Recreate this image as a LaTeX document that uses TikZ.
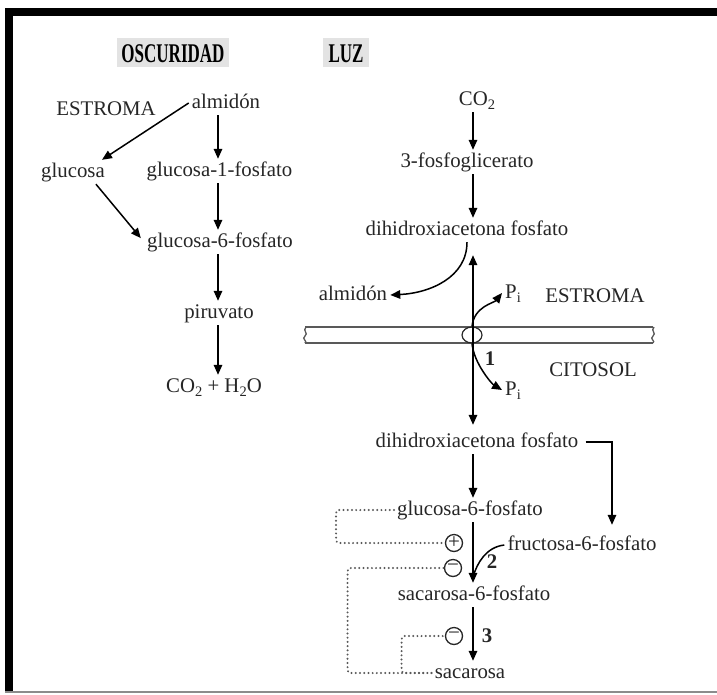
\documentclass[tikz,border=0pt]{standalone}
\usepackage{fontspec}
\setmainfont{Liberation Serif}
\usepackage{graphicx}
\usepackage{tikz}
\usetikzlibrary{arrows.meta,shapes.geometric}

\newcommand{\lowtxt}[1]{\raisebox{-4pt}{\fontsize{14.5}{16}\selectfont #1}}
\newcommand{\titletxt}[1]{\scalebox{0.63}[1]{\bfseries #1}}

\begin{document}
\begin{tikzpicture}[
    x=1pt, y=-1pt,
    txt/.style={
        anchor=base,
        inner xsep=3pt,
        inner ysep=2.5pt,
        text height=14.5pt,
        text depth=4.5pt,
        text=black!85,
        font=\fontsize{20.8}{24}\selectfont
    },
    num/.style={
        txt,
        font=\fontsize{20.8}{24}\selectfont\bfseries
    },
    title/.style={
        anchor=base,
        fill=black!11,
        inner xsep=4.5pt,
        inner ysep=4pt,
        text height=20pt,
        text depth=1pt,
        font=\fontsize{27}{30}\selectfont
    },
    sign/.style={
        circle,
        draw=black!85,
        line width=1.3pt,
        minimum size=17pt,
        inner sep=0pt,
        text=black!85,
        font=\fontsize{21}{21}\selectfont
    },
    arrow/.style={
        -{Triangle[length=10pt,width=8.5pt]},
        line width=1.5pt
    },
    link/.style={
        line width=1.5pt
    },
    dots/.style={
        draw=black!65,
        line width=2.2pt,
        line cap=round,
        dash pattern=on 0.01pt off 4.2pt,
        rounded corners=3pt
    },
    membrane/.style={
        draw=black!65,
        line width=1.3pt
    }
]

\fill[white] (0,0) rectangle (717,694);
\useasboundingbox (0,0) rectangle (717,694);

% ---------------- FRAME ----------------

\fill[black] (5,8) rectangle (13,692);
\fill[black] (5,8) rectangle (717,16);
\draw[black!45, line width=1.5pt] (5,692) -- (717,692);

% ---------------- TITLES ----------------

\node[title] (dark) at (173,62)
    {\titletxt{OSCURIDAD}};

\node[title, inner xsep=6pt] (light) at (346,62)
    {\titletxt{LUZ}};

% ---------------- LEFT COLUMN ----------------

\coordinate (axL) at (218,0);

\node[txt] (stromaL) at (106,115) {ESTROMA};

\node[txt] (almL) at (226,108) {almidón};

\node[txt] (gluc) at (73,177) {glucosa};

\node[txt] (g1p) at (219.5,176) {glucosa-1-fosfato};

\node[txt] (g6pL) at (220,247) {glucosa-6-fosfato};

\node[txt] (pyr) at (219,318) {piruvato};

\node[txt] (co2h2o) at (214,392)
    {CO\lowtxt{2} + H\lowtxt{2}O};

\draw[arrow] (axL |- almL.south) -- (axL |- g1p.north);
\draw[arrow] (axL |- g1p.south) -- (axL |- g6pL.north);
\draw[arrow] (axL |- g6pL.south) -- (axL |- pyr.north);
\draw[arrow] (axL |- pyr.south) -- (axL |- co2h2o.north);

\draw[arrow] (almL.west) -- ([xshift=-6pt]gluc.north east);
\draw[arrow, shorten >=5pt]
    ([xshift=-12pt]gluc.south east) -- (g6pL.west);

% ---------------- RIGHT COLUMN, STROMA ----------------

\coordinate (axR) at (473,0);

\node[txt] (co2) at (477,105) {CO\lowtxt{2}};

\node[txt] (pga) at (467,167) {3-fosfoglicerato};

\node[txt] (dhapU) at (467,235) {dihidroxiacetona fosfato};

\node[txt] (almR) at (353,300) {almidón};

\node[txt] (stromaR) at (595,302) {ESTROMA};

\node[txt] (piU) at (513,298) {P\lowtxt{i}};

\draw[arrow] (axR |- co2.south) -- (axR |- pga.north);
\draw[arrow] (axR |- pga.south) -- (axR |- dhapU.north);

\draw[arrow] (dhapU.south)
    .. controls +(0,35) and +(40,-2) .. (almR.east);

% ---------------- MEMBRANE ----------------

\draw[membrane] (305,327) -- (653,327);
\draw[membrane] (305,343) -- (653,343);
\draw[membrane] (306,327)
    .. controls (302,331) and (309,333) .. (305,336)
    .. controls (301,339) and (308,341) .. (305,343);
\draw[membrane] (654,327)
    .. controls (650,331) and (657,333) .. (653,336)
    .. controls (649,339) and (656,341) .. (653,343);

\node[ellipse, draw=black!85, line width=1.2pt,
      minimum width=20pt, minimum height=16pt, inner sep=0pt]
    (pore) at (472,335) {};

% ---------------- RIGHT COLUMN, CYTOSOL ----------------

\node[txt] (cytosol) at (593,376) {CITOSOL};

\node[num] (t1) at (490,365) {1};

\node[txt] (piL) at (513,395) {P\lowtxt{i}};

\node[txt] (dhapL) at (477,447) {dihidroxiacetona fosfato};

\node[txt] (g6pR) at (470,515) {glucosa-6-fosfato};

\node[txt] (fru) at (582,550) {fructosa-6-fosfato};

\node[sign] (plus2) at (454,543) {+};

\node[sign] (minus2) at (453,568) {−};

\node[num] (t2) at (492,568) {2};

\node[txt] (s6p) at (474,600) {sacarosa-6-fosfato};

\node[sign] (minus3) at (454,636) {−};

\node[num] (t3) at (487,642) {3};

\node[txt] (sac) at (470,678) {sacarosa};

\coordinate (join2) at (473,577);

\draw[arrow, {Triangle[length=10pt,width=8.5pt]}-{Triangle[length=10pt,width=8.5pt]},
      shorten <=13pt, shorten >=5pt]
    (axR |- dhapU.south) -- (axR |- dhapL.north);

\draw[arrow] (pore.north)
    .. controls +(2,-20) and +(-8,10) .. (piU.west);

\draw[arrow] (pore.south)
    .. controls +(2,20) and +(-10,-6) .. (piL.west);

\draw[arrow, shorten <=4pt, shorten >=8pt]
    (dhapL.east) -| ([xshift=30pt]fru.north);

\draw[arrow] (axR |- dhapL.south) -- (axR |- g6pR.north);
\draw[arrow] (axR |- g6pR.south) -- (axR |- s6p.north);
\draw[arrow] (axR |- s6p.south) -- (axR |- sac.north);

\draw[link] (fru.west)
    .. controls +(-18,2) and +(4,-14) .. (join2);

% feedback loops
\draw[dots] (g6pR.west) -- ++(-58,0) |- (plus2.west);
\draw[dots] (sac.west) -- ++(-84,0) |- (minus2.west);
\draw[dots] (sac.west) -- ++(-30,0) |- (minus3.west);

\end{tikzpicture}
\end{document}
